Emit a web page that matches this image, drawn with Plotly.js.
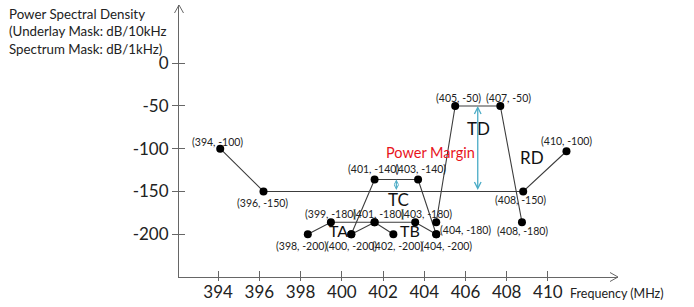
<!DOCTYPE html>
<html><head><meta charset="utf-8">
<script src="https://cdn.plot.ly/plotly-3.0.1.min.js"></script>
<style>html,body{margin:0;padding:0;background:#fff;} #chart{width:694px;height:307px;}</style>
</head><body><div id="chart"></div>
<script>
// ---- data (drawn positions) ----
const underlayX = [394.1, 396.2, 408.8, 410.9];
const underlayY = [-100, -150, -150, -103];
const underlayLabels = ['(394, -100)', '(396, -150)', '(408, -150)', '(410, -100)'];

const taX = [398.35, 399.47, 401.59, 402.5];
const taY = [-200, -186, -186, -200];
const taLabels = ['(398, -200)', '(399, -180)', '(401, -180)', '(402, -200)'];

const tbX = [400.46, 401.59, 403.56, 404.58];
const tbY = [-200, -186, -186, -200];
const tbLabels = ['(400, -200)', '(401, -180)', '(403, -180)', '(404, -200)'];

const tcX = [400.46, 401.59, 403.7, 404.58];
const tcY = [-200, -136, -136, -200];
const tcLabels = ['(400, -200)', '(401, -140)', '(403, -140)', '(404, -200)'];

const tdX = [404.58, 405.5, 407.69, 408.74];
const tdY = [-186, -50, -50, -186];
const tdLabels = ['(404, -180)', '(405, -50)', '(407, -50)', '(408, -180)'];

const seriesNames = ['TA', 'TB', 'TC', 'TD', 'RD'];
const xTickVals = [394, 396, 398, 400, 402, 404, 406, 408, 410];
const yTickVals = [0, -50, -100, -150, -200];

// ---- presentation ----
const FONT = 'Lato, "Open Sans", sans-serif';
const LINE = '#3c3c3c';
const AXIS = '#666666';
const CYAN = '#4bacc6';

// label pixel offsets (dx, dy up)
const labelOffsets = {
  '(394, -100)': [-3, 7], '(396, -150)': [-1, -12], '(408, -150)': [-3, -9], '(410, -100)': [0, 10],
  '(398, -200)': [-6, -12], '(399, -180)': [0, 8], '(401, -180)': [4, 8], '(402, -200)': [4, -12],
  '(400, -200)': [0, -12], '(403, -180)': [11, 8], '(404, -200)': [10, -12],
  '(401, -140)': [-1, 10], '(403, -140)': [2, 10],
  '(404, -180)': [29, -8], '(405, -50)': [3, 8], '(407, -50)': [8, 8], '(408, -180)': [1, -9]
};

const series = [
  {x: underlayX, y: underlayY, labels: underlayLabels},
  {x: taX, y: taY, labels: taLabels},
  {x: tbX, y: tbY, labels: tbLabels},
  {x: tcX, y: tcY, labels: tcLabels},
  {x: tdX, y: tdY, labels: tdLabels}
];

const traces = series.map(s => ({
  type: 'scatter', mode: 'lines+markers', x: s.x, y: s.y,
  line: {color: LINE, width: 1.1},
  marker: {color: '#000', size: 8},
  showlegend: false, hoverinfo: 'skip'
}));
// empty trace to host the overlay axes (crossing ticks)
traces.push({type: 'scatter', x: [], y: [], xaxis: 'x2', yaxis: 'y2', showlegend: false, hoverinfo: 'skip'});

const annotations = [];
const seen = new Set();
series.forEach(s => {
  s.labels.forEach((t, i) => {
    if (seen.has(t)) return;
    seen.add(t);
    const off = labelOffsets[t] || [0, 0];
    annotations.push({
      x: s.x[i], y: s.y[i], xref: 'x', yref: 'y', text: t, showarrow: false,
      xanchor: 'center', yanchor: 'middle', xshift: off[0], yshift: off[1],
      font: {family: FONT, size: 10.5, color: '#222'}
    });
  });
});

// series names
const nameFont = {family: FONT, size: 17, color: '#111'};
const namePos = {TA: [399.83, -195.5], TB: [403.31, -195.5], TC: [402.75, -159], TD: [406.63, -76], RD: [409.25, -110.6]};
seriesNames.forEach(n => {
  annotations.push({x: namePos[n][0], y: namePos[n][1], xref: 'x', yref: 'y', text: n, showarrow: false,
    xanchor: 'center', yanchor: 'middle', font: (n === 'TA' || n === 'TB') ? {family: FONT, size: 16, color: '#111'} : nameFont});
});

// Power margin arrows
const tdMid = (tdX[1] + tdX[2]) / 2;
const tcMid = (tcX[1] + tcX[2]) / 2;
annotations.push({x: tdMid, y: tdY[1], ax: tdMid, ay: underlayY[1], xref: 'x', yref: 'y', axref: 'x', ayref: 'y',
  text: '', showarrow: true, arrowside: 'end+start', arrowhead: 5, arrowsize: 1, arrowwidth: 1.3, arrowcolor: CYAN,
  standoff: 0, startstandoff: 0});
annotations.push({x: tcMid, y: tcY[1], ax: tcMid, ay: underlayY[1], xref: 'x', yref: 'y', axref: 'x', ayref: 'y',
  text: '', showarrow: true, arrowside: 'end+start', arrowhead: 5, arrowsize: 0.7, arrowwidth: 1.2, arrowcolor: CYAN,
  standoff: 0, startstandoff: 0});
annotations.push({x: 404.28, y: -105, xref: 'x', yref: 'y', text: 'Power Margin', showarrow: false,
  xanchor: 'center', yanchor: 'middle', font: {family: FONT, size: 14.5, color: '#e8141c'}});

// axis titles
annotations.push({x: 0.997, y: -0.059, xref: 'paper', yref: 'paper', text: 'Frequency (MHz)', showarrow: false,
  xanchor: 'center', yanchor: 'middle', font: {family: FONT, size: 12.5, color: '#222'}});
annotations.push({x: -0.392, y: 0.903, xref: 'paper', yref: 'paper',
  text: 'Power Spectral Density<br>(Underlay Mask: dB/10kHz<br>Spectrum Mask: dB/1kHz)', showarrow: false,
  xanchor: 'left', yanchor: 'middle', align: 'left', font: {family: FONT, size: 13.3, color: '#222'}});

const xr = [392.1, 413.4], yr = [-250, 68];
const layout = {
  width: 694, height: 307,
  margin: {l: 179, r: 76, t: 5, b: 30},
  paper_bgcolor: '#fff', plot_bgcolor: '#fff',
  xaxis: {range: xr, tickvals: xTickVals, ticktext: xTickVals.map(String), ticks: 'inside', ticklen: 6,
    tickcolor: AXIS, tickwidth: 1, showline: true, linecolor: AXIS, linewidth: 1, showgrid: false, zeroline: false,
    tickfont: {family: FONT, size: 17, color: '#222'}, fixedrange: true},
  yaxis: {range: yr, tickvals: yTickVals, ticktext: yTickVals.map(String), ticks: 'outside', ticklen: 6,
    tickcolor: AXIS, tickwidth: 1, showline: true, linecolor: AXIS, linewidth: 1, showgrid: false, zeroline: false,
    tickfont: {family: FONT, size: 17, color: '#222'}, fixedrange: true},
  xaxis2: {range: xr, overlaying: 'x', anchor: 'y2', side: 'bottom', tickvals: xTickVals, ticks: 'outside', ticklen: 3,
    tickcolor: AXIS, showticklabels: false, showline: false, showgrid: false, zeroline: false},
  yaxis2: {range: yr, overlaying: 'y', anchor: 'x2', side: 'left', tickvals: yTickVals, ticks: 'inside', ticklen: 6,
    tickcolor: AXIS, showticklabels: false, showline: false, showgrid: false, zeroline: false},
  shapes: [
    {type: 'path', xref: 'paper', yref: 'paper', xsizemode: 'pixel', ysizemode: 'pixel', xanchor: 1, yanchor: 0,
      path: 'M -8 4.5 L 0 0 L -8 -4.5', line: {color: AXIS, width: 1}},
    {type: 'path', xref: 'paper', yref: 'paper', xsizemode: 'pixel', ysizemode: 'pixel', xanchor: 0, yanchor: 1,
      path: 'M -4.5 -8 L 0 0 L 4.5 -8', line: {color: AXIS, width: 1}}
  ],
  annotations: annotations,
  showlegend: false
};
Plotly.newPlot('chart', traces, layout, {staticPlot: true, displayModeBar: false});
</script>
</body></html>
